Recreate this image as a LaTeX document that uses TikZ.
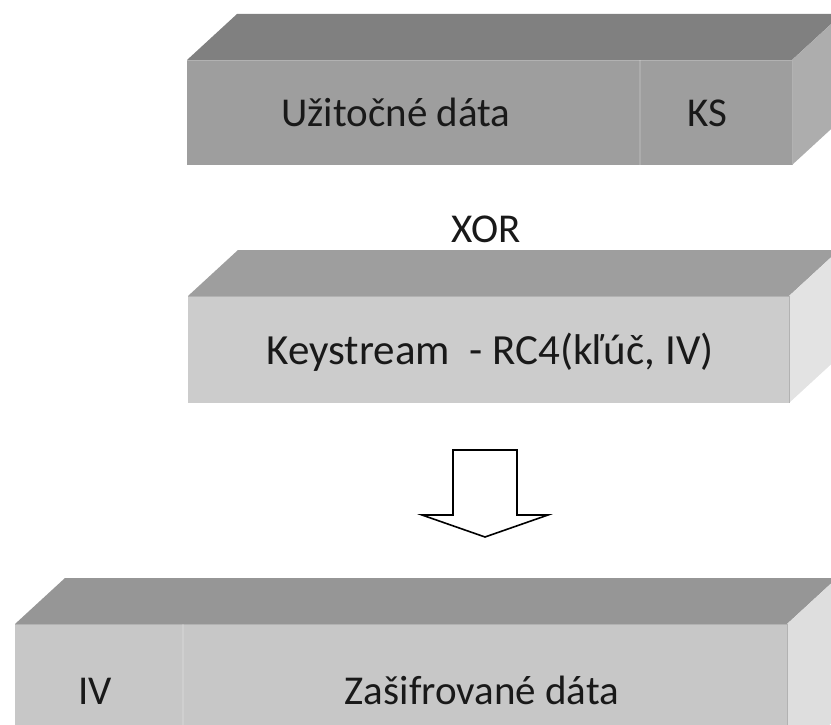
\documentclass[tikz,border=0pt]{standalone}
\usepackage{fontspec}
\setmainfont{Carlito}
\usetikzlibrary{calc}
\definecolor{frontA}{gray}{0.62}
\definecolor{topA}{gray}{0.50}
\definecolor{sideA}{gray}{0.68}
\definecolor{frontB}{gray}{0.80}
\definecolor{topB}{gray}{0.62}
\definecolor{sideB}{gray}{0.89}
\definecolor{frontC}{gray}{0.78}
\definecolor{topC}{gray}{0.59}
\definecolor{sideC}{gray}{0.87}
\definecolor{ink}{gray}{0.10}
\tikzset{
  slab/.style={rectangle, inner sep=0pt, outer sep=0pt},
  label/.style={text=ink, font=\fontsize{41}{45}\selectfont, inner sep=0pt, anchor=base},
  seam/.style={white, opacity=0.15, line width=1.2pt},
  blockarrow/.style={draw=black, line width=1.6pt, fill=white, line join=miter},
}
% top and side faces of a slab, depth (50,46)
\newcommand\slabfaces[3]{%
  \fill[#2] (#1.north west) -- ++(50,-46) -- ($(#1.north east)+(50,-46)$) -- (#1.north east) -- cycle;
  \fill[#3] (#1.north east) -- ++(50,-46) -- ($(#1.south east)+(50,-46)$) -- (#1.south east) -- cycle;
  \draw[black!30, line width=0.5pt] (#1.north west) -- (#1.north east) -- (#1.south east);
}
\begin{document}
\begin{tikzpicture}[x=1pt, y=-1pt]
\useasboundingbox (0,0) rectangle (831,725);
\clip (0,0) rectangle (831,725);

% plaintext slab
\node[slab, fill=frontA, minimum width=605pt, minimum height=105pt] (plain) at (489.5,112.5) {};
\slabfaces{plain}{topA}{sideA}
\coordinate (plainSeamTop) at ($(plain.north west)+(453,0)$);
\coordinate (plainSeamBot) at ($(plain.south west)+(453,0)$);
\draw[seam] (plainSeamTop) -- (plainSeamBot);
\node[label] (data) at (396,126) {Užitočné dáta};
\node[label] (ks) at (707,126) {KS};

% operator
\node[label] (xor) at (486,242) {XOR};

% keystream slab
\node[slab, fill=frontB, minimum width=601pt, minimum height=107pt] (keys) at (488.5,349.5) {};
\slabfaces{keys}{topB}{sideB}
\node[label, font=\fontsize{43}{47}\selectfont] (ksText) at (490,364) {Keystream\ \ - RC4(kľúč, IV)};

% block arrow pointing down
\coordinate (a1) at (453,450);
\coordinate (a2) at (517,450);
\coordinate (a3) at (517,515);
\coordinate (a4) at (548,515);
\coordinate (a5) at (485,537);
\coordinate (a6) at (422,515);
\coordinate (a7) at (453,515);
\draw[blockarrow] (a1) -- (a2) -- (a3) -- (a4) -- (a5) -- (a6) -- (a7) -- cycle;

% ciphertext slab
\node[slab, fill=frontC, minimum width=772pt, minimum height=140pt] (cipher) at (401,694) {};
\slabfaces{cipher}{topC}{sideC}
\coordinate (cipherSeamTop) at ($(cipher.north west)+(168,0)$);
\coordinate (cipherSeamBot) at ($(cipher.south west)+(168,0)$);
\draw[seam] (cipherSeamTop) -- (cipherSeamBot);
\node[label] (iv) at (95,704) {IV};
\node[label] (enc) at (482,704) {Zašifrované dáta};
\end{tikzpicture}
\end{document}
